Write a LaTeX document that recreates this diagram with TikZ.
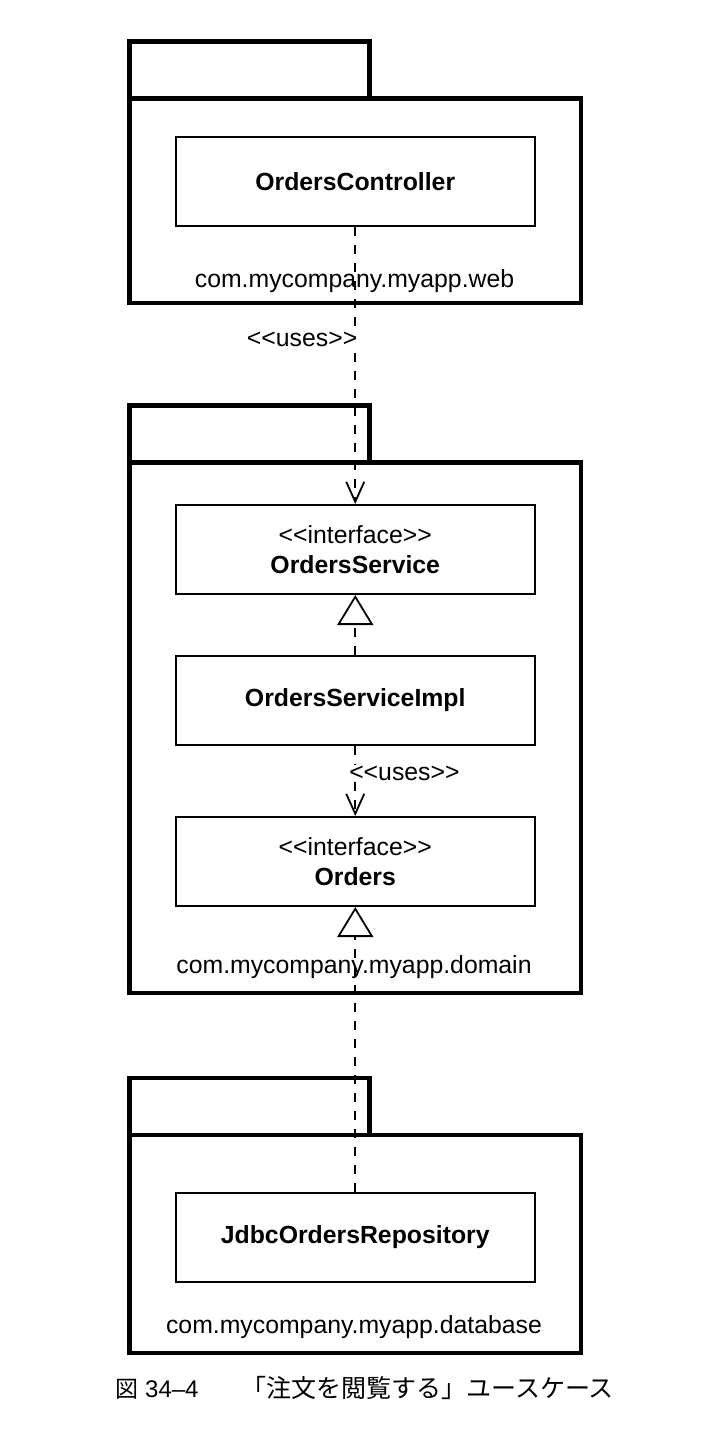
\documentclass[tikz,border=0pt]{standalone}
\usepackage{fontspec}
\setmainfont{Liberation Sans}[Ligatures=TeXOff]
\newfontfamily\cjkfont{Noto Sans CJK JP}
\usetikzlibrary{arrows.meta}

\tikzset{
	pkgLine/.style={line width=4.5pt},
	classBox/.style={draw, line width=2pt, minimum width=359.5pt, minimum height=89pt,
		inner sep=0pt, align=center, font=\fontsize{24.8}{30.5}\selectfont},
	pkgLabel/.style={anchor=base, inner sep=0pt, font=\fontsize{24.8}{30}\selectfont},
	usesLabel/.style={fill=white, inner sep=1pt, font=\fontsize{24.8}{30}\selectfont},
	usesLine/.style={line width=2pt, dash pattern=on 9pt off 9pt,
		-{Straight Barb[length=20pt,width=18pt,line width=1.8pt]}},
	realizeLine/.style={line width=2pt, dash pattern=on 9pt off 9pt,
		-{Triangle[open,length=30pt,width=36pt,line width=1.8pt]}},
	captionText/.style={inner sep=0pt, font=\fontsize{24}{30}\selectfont},
}
\newcommand*{\packageFrame}[2]{ %#1 is top of the tab, #2 is bottom of the body
	\draw[pkgLine] (129.5,#1+57) |- (369.5,#1) -- (369.5,#1+57);
	\draw[pkgLine] (129.5,#1+57) rectangle (581,#2);
}

\begin{document}
\begin{tikzpicture}[x=1pt,y=-1pt]
		\useasboundingbox (0,0) rectangle (706,1448);
		
		% the packages
		\packageFrame{41.7}{303}
		\packageFrame{405.5}{993}
		\packageFrame{1078}{1353}
		
		% package names
		\node[pkgLabel] (webLabel) at (354.5,287) {com.mycompany.myapp.web};
		\node[pkgLabel] (domainLabel) at (354,973) {com.mycompany.myapp.domain};
		\node[pkgLabel] (databaseLabel) at (354,1333) {com.mycompany.myapp.database};
		
		% the classes
		\node[classBox] (ordersController) at (355.25,181.5) {\textbf{OrdersController}};
		\node[classBox] (ordersService) at (355.25,549.5) {<<interface>>\\\textbf{OrdersService}};
		\node[classBox] (ordersServiceImpl) at (355.25,700) {\textbf{OrdersServiceImpl}};
		\node[classBox] (orders) at (355.25,861.5) {<<interface>>\\\textbf{Orders}};
		\node[classBox] (jdbcOrdersRepository) at (355.25,1237.5) {\textbf{JdbcOrdersRepository}};
		
		% dependencies
		\draw[usesLine] (ordersController) -- node[usesLabel, pos=0.405, anchor=east, xshift=4pt] (usesWeb) {<<uses>>} (ordersService);
		\draw[usesLine] (ordersServiceImpl) -- node[usesLabel, pos=0.40, anchor=west, xshift=-8pt] (usesDomain) {<<uses>>} (orders);
		% realizations
		\draw[realizeLine] (ordersServiceImpl) -- (ordersService);
		\draw[realizeLine] (jdbcOrdersRepository) -- (orders);
		
		% caption
		\node[captionText, anchor=base west] (figNumber) at (115,1397) {{\cjkfont\fontsize{23}{30}\selectfont 図}\hspace{7pt}34–4};
		\node[captionText, anchor=base east, font=\cjkfont\fontsize{25}{30}\selectfont] (figTitle) at (614,1397) {「注文を閲覧する」ユースケース};
		
\end{tikzpicture}
\end{document}
